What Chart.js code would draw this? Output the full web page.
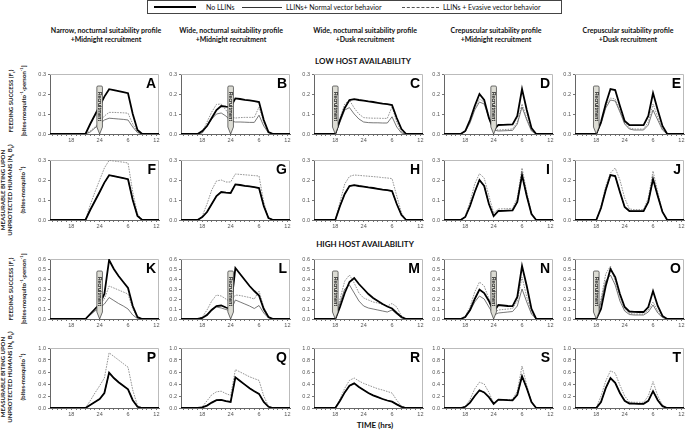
<!DOCTYPE html>
<html><head><meta charset="utf-8">
<script src="https://cdn.jsdelivr.net/npm/chart.js@4.4.1/dist/chart.umd.min.js"></script>
<style>
body{margin:0;width:685px;height:430px;position:relative;background:#fff;overflow:hidden;font-family:Lato,'Liberation Sans',sans-serif;color:#111}
.t{position:absolute;white-space:nowrap}
.hd{font-weight:bold;font-size:7px;line-height:8.6px;text-align:center;transform:translateX(-50%)}
.sec{font-weight:bold;font-size:8px;transform:translateX(-50%)}
.yt{font-weight:bold;font-size:6px;line-height:7.4px;text-align:center;color:#222;transform:translate(-50%,-50%) rotate(-90deg)}
canvas{position:absolute}
#leg{position:absolute;left:147px;top:0;width:413px;height:12px;border:1px solid #444;font-size:7px}
.ls{position:absolute;top:6px;height:0}
.lt{position:absolute;top:1.5px;white-space:nowrap}
</style></head><body>
<div id="leg">
 <div class="ls" style="left:6px;width:42px;border-top:2px solid #000;top:5px"></div>
 <div class="lt" style="left:58px">No LLINs</div>
 <div class="ls" style="left:94px;width:40px;border-top:1px solid #333"></div>
 <div class="lt" style="left:138px">LLINs+ Normal vector behavior</div>
 <div class="ls" style="left:254px;width:37px;border-top:1px dashed #555"></div>
 <div class="lt" style="left:295px">LLINs + Evasive vector behavior</div>
</div>
<div class="t hd" style="left:106px;top:26px">Narrow, nocturnal suitability profile<br>+Midnight recruitment</div>
<div class="t hd" style="left:231px;top:26px">Wide, nocturnal suitability profile<br>+Midnight recruitment</div>
<div class="t hd" style="left:365px;top:26px">Wide, nocturnal suitability profile<br>+Dusk recruitment</div>
<div class="t hd" style="left:496px;top:26px">Crepuscular suitability profile<br>+Midnight recruitment</div>
<div class="t hd" style="left:628px;top:26px">Crepuscular suitability profile<br>+Dusk recruitment</div>
<div class="t sec" style="left:363px;top:56px">LOW HOST AVAILABILITY</div>
<div class="t sec" style="left:365px;top:239px">HIGH HOST AVAILABILITY</div>
<div class="t sec" style="left:375px;top:420px">TIME (hrs)</div>
<div class="t yt" style="left:17px;top:101px">FEEDING SUCCESS (F<sub style="font-size:4px">c</sub>)<br>[bites·mosquito<sup style="font-size:4px">-1</sup>·person<sup style="font-size:4px">-1</sup>]</div>
<div class="t yt" style="left:12.5px;top:190px">MEASURABLE BITING UPON<br>UNPROTECTED HUMANS (N<sub style="font-size:4px">h</sub> B<sub style="font-size:4px">h</sub>)<br>(bites·mosquito<sup style="font-size:4px">-1</sup>)</div>
<div class="t yt" style="left:17px;top:289px">FEEDING SUCCESS (F<sub style="font-size:4px">c</sub>)<br>[bites·mosquito<sup style="font-size:4px">-1</sup>·person<sup style="font-size:4px">-1</sup>]</div>
<div class="t yt" style="left:12.5px;top:377px">MEASURABLE BITING UPON<br>UNPROTECTED HUMANS (N<sub style="font-size:4px">h</sub> B<sub style="font-size:4px">h</sub>)<br>(bites·mosquito<sup style="font-size:4px">-1</sup>)</div>
<script>
// hours after noon: 6 = 18:00, 12 = 24:00, 18 = 06:00, 24 = 12:00
const HOURS = [1,2,3,4,5,6,7,8,9,10,11,12,13,14,15,16,17,18,19,20,21,22,23,24,25];
const X_TICKS = [2,3,4,5,6,7,8,9,10,11,12,13,14,15,16,17,18,19,20,21,22,23,24];
const X_LABEL_AT = [6,12,18,24];
const X_LABELS = ['18','24','6','12'];
const Y_MAX = [0.3,0.3,0.6,1.0];
const Y_STEP = [0.1,0.1,0.1,0.2];
const RECRUIT_H = [12,12,6,12,6];
const LETTERS = ['A','B','C','D','E','F','G','H','I','J','K','L','M','N','O','P','Q','R','S','T'];

// LOW host availability - feeding success
const A_none=[0,0,0,0,0,0,0,0,0,.05,.095,.14,.187,.224,.219,.214,.209,.204,.10,.02,0,0,0,0,0];
const A_norm=[0,0,0,0,0,0,0,0,0,.01,.03,.05,.07,.079,.077,.075,.073,.07,.035,.007,0,0,0,0,0];
const A_evas=[0,0,0,0,0,0,0,0,0,.015,.035,.06,.09,.108,.108,.107,.106,.104,.05,.01,0,0,0,0,0];
const B_none=[0,0,0,0,0,.015,.04,.08,.12,.14,.137,.135,.178,.175,.171,.168,.164,.16,.07,.01,0,0,0,0,0];
const B_norm=[0,0,0,0,0,.005,.04,.075,.1,.105,.09,.065,.06,.06,.059,.058,.058,.094,.04,.005,0,0,0,0,0];
const B_evas=[0,0,0,0,0,.01,.06,.11,.148,.15,.12,.085,.08,.082,.083,.083,.083,.135,.06,.008,0,0,0,0,0];
const C_none=[0,0,0,0,0,0,.07,.13,.17,.174,.17,.167,.163,.16,.156,.152,.149,.145,.08,.025,0,0,0,0,0];
const C_norm=[0,0,0,0,0,0,.06,.12,.132,.1,.075,.06,.057,.056,.056,.055,.055,.086,.035,.005,0,0,0,0,0];
const C_evas=[0,0,0,0,0,0,.08,.15,.17,.13,.1,.082,.08,.079,.079,.078,.078,.136,.06,.01,0,0,0,0,0];
const D_none=[0,0,0,0,0,.015,.07,.14,.2,.17,.08,.02,.045,.046,.047,.048,.09,.225,.12,.03,0,0,0,0,0];
const D_norm=[0,0,0,0,0,.012,.055,.12,.16,.15,.08,.02,.015,.016,.017,.018,.05,.135,.07,.015,0,0,0,0,0];
const D_evas=[0,0,0,0,0,.013,.06,.13,.175,.16,.09,.025,.02,.022,.023,.025,.06,.15,.08,.02,0,0,0,0,0];
const E_none=[0,0,0,0,0,0,.06,.15,.225,.22,.14,.065,.045,.044,.044,.044,.09,.205,.12,.04,0,0,0,0,0];
const E_norm=[0,0,0,0,0,0,.05,.13,.17,.165,.11,.05,.025,.02,.02,.02,.045,.12,.07,.02,0,0,0,0,0];
const E_evas=[0,0,0,0,0,0,.055,.14,.18,.175,.12,.055,.03,.025,.025,.025,.06,.15,.085,.025,0,0,0,0,0];
// LOW host availability - measurable biting
const F_none=[0,0,0,0,0,0,0,0,0,.05,.095,.14,.187,.224,.219,.214,.209,.204,.10,.02,0,0,0,0,0];
const F_norm=[0,0,0,0,0,0,0,0,0,.05,.095,.14,.187,.224,.219,.214,.209,.204,.10,.02,0,0,0,0,0];
const F_evas=[0,0,0,0,0,0,0,0,0,.075,.14,.2,.26,.298,.295,.292,.289,.285,.14,.03,0,0,0,0,0];
const G_none=[0,0,0,0,0,.015,.04,.08,.12,.14,.137,.135,.178,.175,.171,.168,.164,.16,.07,.01,0,0,0,0,0];
const G_norm=[0,0,0,0,0,.015,.04,.08,.12,.14,.137,.135,.178,.175,.171,.168,.164,.16,.07,.01,0,0,0,0,0];
const G_evas=[0,0,0,0,0,.02,.08,.15,.195,.2,.19,.19,.23,.228,.226,.224,.222,.22,.09,.01,0,0,0,0,0];
const H_none=[0,0,0,0,0,0,.07,.13,.17,.174,.17,.167,.163,.16,.156,.152,.149,.145,.08,.025,0,0,0,0,0];
const H_norm=[0,0,0,0,0,0,.07,.13,.17,.174,.17,.167,.163,.16,.156,.152,.149,.145,.08,.025,0,0,0,0,0];
const H_evas=[0,0,0,0,0,0,.09,.18,.218,.225,.223,.221,.219,.217,.215,.212,.21,.207,.12,.035,0,0,0,0,0];
const I_none=[0,0,0,0,0,.015,.07,.14,.2,.17,.08,.02,.045,.046,.047,.048,.09,.225,.12,.03,0,0,0,0,0];
const I_norm=[0,0,0,0,0,.015,.07,.14,.2,.17,.08,.02,.045,.046,.047,.048,.09,.225,.12,.03,0,0,0,0,0];
const I_evas=[0,0,0,0,0,.02,.09,.18,.232,.21,.12,.035,.055,.056,.057,.058,.11,.26,.14,.035,0,0,0,0,0];
const J_none=[0,0,0,0,0,0,.06,.15,.225,.22,.14,.065,.045,.044,.044,.044,.09,.205,.12,.04,0,0,0,0,0];
const J_norm=[0,0,0,0,0,0,.06,.15,.225,.22,.14,.065,.045,.044,.044,.044,.09,.205,.12,.04,0,0,0,0,0];
const J_evas=[0,0,0,0,0,0,.07,.17,.235,.26,.2,.11,.055,.052,.052,.052,.11,.245,.14,.04,0,0,0,0,0];
// HIGH host availability - feeding success
const K_none=[0,0,0,0,0,0,0,0,0,.05,.1,.15,.25,.59,.5,.43,.37,.31,.13,.02,0,0,0,0,0];
const K_norm=[0,0,0,0,0,0,0,0,0,.04,.08,.11,.15,.215,.185,.155,.13,.1,.04,.005,0,0,0,0,0];
const K_evas=[0,0,0,0,0,0,0,0,0,.05,.1,.14,.2,.33,.31,.29,.27,.25,.1,.01,0,0,0,0,0];
const L_none=[0,0,0,0,0,.01,.04,.09,.13,.135,.115,.1,.51,.45,.39,.33,.28,.235,.1,.02,0,0,0,0,0];
const L_norm=[0,0,0,0,0,.01,.05,.1,.12,.11,.095,.08,.19,.17,.15,.13,.105,.135,.06,.01,0,0,0,0,0];
const L_evas=[0,0,0,0,0,.02,.09,.18,.24,.23,.2,.17,.24,.235,.225,.215,.2,.28,.12,.02,0,0,0,0,0];
const M_none=[0,0,0,0,0,0,.12,.26,.37,.41,.35,.3,.25,.21,.18,.15,.125,.105,.06,.02,0,0,0,0,0];
const M_norm=[0,0,0,0,0,0,.16,.3,.34,.26,.18,.13,.11,.1,.09,.08,.07,.09,.05,.01,0,0,0,0,0];
const M_evas=[0,0,0,0,0,0,.2,.38,.44,.36,.26,.21,.19,.17,.16,.145,.13,.155,.12,.03,0,0,0,0,0];
const N_none=[0,0,0,0,0,.02,.09,.2,.295,.26,.18,.07,.14,.135,.13,.128,.22,.53,.33,.1,0,0,0,0,0];
const N_norm=[0,0,0,0,0,.02,.08,.17,.23,.2,.12,.04,.06,.065,.07,.075,.13,.3,.17,.05,0,0,0,0,0];
const N_evas=[0,0,0,0,0,.03,.12,.27,.37,.33,.2,.06,.09,.095,.1,.105,.18,.42,.22,.06,0,0,0,0,0];
const O_none=[0,0,0,0,0,0,.1,.33,.5,.42,.25,.12,.075,.072,.07,.07,.12,.28,.13,.03,0,0,0,0,0];
const O_norm=[0,0,0,0,0,0,.17,.38,.44,.34,.18,.08,.045,.04,.04,.04,.07,.14,.06,.015,0,0,0,0,0];
const O_evas=[0,0,0,0,0,0,.2,.45,.53,.38,.22,.1,.055,.05,.05,.05,.09,.17,.08,.02,0,0,0,0,0];
// HIGH host availability - measurable biting
const P_none=[0,0,0,0,0,0,0,0,0,.05,.1,.15,.25,.59,.5,.43,.37,.31,.13,.02,0,0,0,0,0];
const P_norm=[0,0,0,0,0,0,0,0,0,.05,.1,.15,.25,.59,.5,.43,.37,.31,.13,.02,0,0,0,0,0];
const P_evas=[0,0,0,0,0,0,0,0,0,.12,.25,.37,.5,.92,.86,.8,.74,.68,.3,.04,0,0,0,0,0];
const Q_none=[0,0,0,0,0,.01,.04,.09,.13,.135,.115,.1,.51,.45,.39,.33,.28,.235,.1,.02,0,0,0,0,0];
const Q_norm=[0,0,0,0,0,.01,.04,.09,.13,.135,.115,.1,.51,.45,.39,.33,.28,.235,.1,.02,0,0,0,0,0];
const Q_evas=[0,0,0,0,0,.02,.12,.22,.27,.28,.24,.21,.64,.6,.56,.52,.49,.46,.2,.03,0,0,0,0,0];
const R_none=[0,0,0,0,0,0,.12,.26,.37,.41,.35,.3,.25,.21,.18,.15,.125,.105,.06,.02,0,0,0,0,0];
const R_norm=[0,0,0,0,0,0,.12,.26,.37,.41,.35,.3,.25,.21,.18,.15,.125,.105,.06,.02,0,0,0,0,0];
const R_evas=[0,0,0,0,0,0,.15,.33,.46,.5,.45,.41,.38,.35,.32,.3,.275,.25,.13,.03,0,0,0,0,0];
const S_none=[0,0,0,0,0,.02,.09,.2,.295,.26,.18,.07,.14,.135,.13,.128,.22,.53,.33,.1,0,0,0,0,0];
const S_norm=[0,0,0,0,0,.02,.09,.2,.295,.26,.18,.07,.14,.135,.13,.128,.22,.53,.33,.1,0,0,0,0,0];
const S_evas=[0,0,0,0,0,.03,.14,.32,.43,.4,.26,.08,.14,.14,.14,.145,.28,.7,.38,.1,0,0,0,0,0];
const T_none=[0,0,0,0,0,0,.1,.33,.5,.42,.25,.12,.075,.072,.07,.07,.12,.28,.13,.03,0,0,0,0,0];
const T_norm=[0,0,0,0,0,0,.1,.33,.5,.42,.25,.12,.075,.072,.07,.07,.12,.28,.13,.03,0,0,0,0,0];
const T_evas=[0,0,0,0,0,0,.2,.45,.62,.58,.38,.2,.1,.095,.095,.095,.2,.44,.2,.05,0,0,0,0,0];

const SERIES = {
 A:[A_none,A_norm,A_evas],B:[B_none,B_norm,B_evas],C:[C_none,C_norm,C_evas],D:[D_none,D_norm,D_evas],E:[E_none,E_norm,E_evas],
 F:[F_none,F_norm,F_evas],G:[G_none,G_norm,G_evas],H:[H_none,H_norm,H_evas],I:[I_none,I_norm,I_evas],J:[J_none,J_norm,J_evas],
 K:[K_none,K_norm,K_evas],L:[L_none,L_norm,L_evas],M:[M_none,M_norm,M_evas],N:[N_none,N_norm,N_evas],O:[O_none,O_norm,O_evas],
 P:[P_none,P_norm,P_evas],Q:[Q_none,Q_norm,Q_evas],R:[R_none,R_norm,R_evas],S:[S_none,S_norm,S_evas],T:[T_none,T_norm,T_evas]
};

// layout
const COLS=[50,181,314,444,575], ROWS=[74,160,259,348];
const PW=109, PH=60, YW=22, PT=6, PR=10, XH=12;

const panelPlugin = {
  id:'panel',
  beforeDatasetsDraw(chart){
    const a=chart.chartArea, c=chart.ctx;
    c.save(); c.strokeStyle='#bbb'; c.lineWidth=1;
    c.beginPath(); c.moveTo(a.left, a.top+0.5); c.lineTo(a.right-0.5, a.top+0.5); c.lineTo(a.right-0.5, a.bottom); c.stroke();
    c.restore();
  },
  afterDatasetsDraw(chart, args, opts){
    const a=chart.chartArea, c=chart.ctx;
    if(opts.recruit!=null){
      const xc=chart.scales.x.getPixelForValue(opts.recruit);
      const tip=chart.scales.y.getPixelForValue(0);
      const w=5.6, top=a.top+12, rb=tip-7, r=1.2;
      c.save();
      c.beginPath();
      c.moveTo(xc-w/2, top+r); c.quadraticCurveTo(xc-w/2, top, xc-w/2+r, top);
      c.lineTo(xc+w/2-r, top); c.quadraticCurveTo(xc+w/2, top, xc+w/2, top+r);
      c.lineTo(xc+w/2, rb); c.lineTo(xc, tip); c.lineTo(xc-w/2, rb); c.closePath();
      c.fillStyle='#dcdcd4'; c.fill(); c.strokeStyle='#333'; c.lineWidth=0.7; c.stroke();
      c.translate(xc, (top+rb)/2); c.rotate(Math.PI/2);
      c.fillStyle='#222'; c.font='bold 5px "Liberation Sans", Arial'; c.textAlign='center'; c.textBaseline='middle';
      c.fillText('Recruitment',0,0.3);
      c.restore();
    }
    c.save();
    c.fillStyle='#000'; c.font='bold 14px "Liberation Sans", Arial'; c.textAlign='right'; c.textBaseline='alphabetic';
    c.fillText(opts.letter, a.right-3, a.top+13.5);
    c.restore();
  }
};

LETTERS.forEach((L, idx)=>{
  const row=Math.floor(idx/5), col=idx%5;
  const cv=document.createElement('canvas');
  const W=YW+PW+PR, H=PT+PH+XH;
  cv.width=W; cv.height=H;
  cv.style.left=(COLS[col]-YW)+'px'; cv.style.top=(ROWS[row]-PT)+'px';
  cv.style.width=W+'px'; cv.style.height=H+'px';
  document.body.appendChild(cv);
  const [none,norm,evas]=SERIES[L];
  const pts=arr=>HOURS.map((h,i)=>({x:h,y:arr[i]}));
  const tickFont={size:5.5,family:'"Liberation Sans", Arial'};
  new Chart(cv,{
    type:'line',
    data:{datasets:[
      {label:'No LLINs',data:pts(none),borderColor:'#000',borderWidth:1.8,pointRadius:0,tension:0},
      {label:'LLINs+ Normal vector behavior',data:pts(norm),borderColor:'#555',borderWidth:0.8,pointRadius:0,tension:0},
      {label:'LLINs + Evasive vector behavior',data:pts(evas),borderColor:'#888',borderWidth:0.9,borderDash:[1.6,1.1],pointRadius:0,tension:0}
    ]},
    options:{
      responsive:false, animation:false, events:[], devicePixelRatio:1,
      layout:{padding:{left:0,top:PT,right:PR,bottom:0}},
      plugins:{legend:{display:false},tooltip:{enabled:false},
        panel:{letter:L, recruit:(row===0||row===2)?RECRUIT_H[col]:null}},
      scales:{
        x:{type:'linear',min:1.5,max:24.55,
          afterBuildTicks:s=>{s.ticks=X_TICKS.map(v=>({value:v}));},
          afterFit:s=>{s.height=XH;},
          ticks:{autoSkip:false,maxRotation:0,minRotation:0,padding:1,font:tickFont,color:'#555',
            callback:v=>{const k=X_LABEL_AT.indexOf(v);return k<0?'':X_LABELS[k];}},
          grid:{drawOnChartArea:false,drawTicks:true,tickLength:2,color:'#777'},
          border:{display:true,color:'#666',width:1}},
        y:{min:0,max:Y_MAX[row],
          afterFit:s=>{s.width=YW;},
          ticks:{stepSize:Y_STEP[row],padding:2,font:tickFont,color:'#555',callback:v=>Number(v).toFixed(1)},
          grid:{drawOnChartArea:false,drawTicks:true,tickLength:2,color:'#777'},
          border:{display:true,color:'#666',width:1}}
      }
    },
    plugins:[panelPlugin]
  });
});
</script>
</body></html>
